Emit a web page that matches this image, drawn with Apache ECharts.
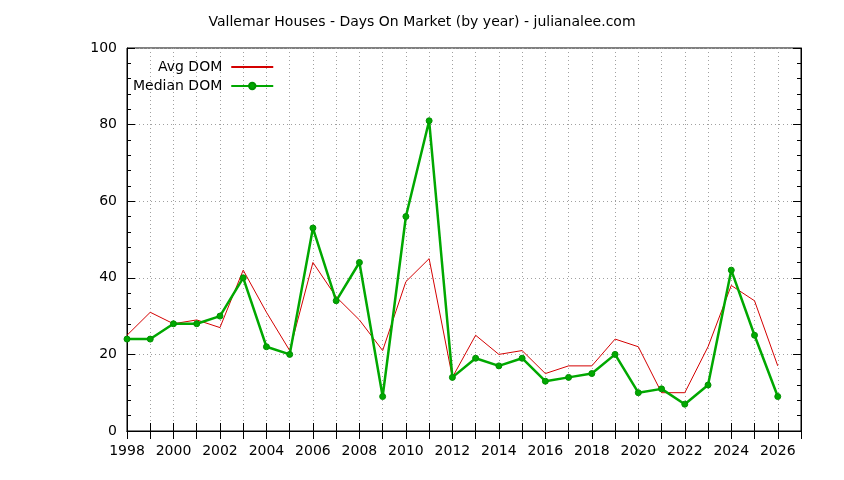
<!DOCTYPE html>
<html><head><meta charset="utf-8">
<script src="https://cdn.jsdelivr.net/npm/echarts@6/dist/echarts.min.js"></script>
<style>html,body{margin:0;padding:0;background:#fff}#c{width:844px;height:480px}</style>
</head><body><div id="c"></div>
<script>
const years = [1998,1999,2000,2001,2002,2003,2004,2005,2006,2007,2008,2009,2010,2011,2012,2013,2014,2015,2016,2017,2018,2019,2020,2021,2022,2023,2024,2025,2026];
const avgDom = [25,31,28,29,27,42,31,21,44,35,29,21,39,45,14,25,20,21,15,17,17,24,22,10,10,22,38,34,17];
const medianDom = [24,24,28,28,30,40,22,20,53,34,44,9,56,81,14,19,17,19,13,14,15,20,10,11,7,12,42,25,9];
const titleText = 'Vallemar Houses - Days On Market (by year) - julianalee.com';

const FONT = 'DejaVu Sans';
const chart = echarts.init(document.getElementById('c'));
const dotted = {show:true, lineStyle:{color:'#a0a0a0', type:[1,3], width:1}};
chart.setOption({
  animation:false,
  title:{text:titleText, left:'center', top:10, textStyle:{fontFamily:FONT, fontSize:14, fontWeight:'normal', color:'#000'}},
  grid:{left:127, right:43, top:48, bottom:49, show:true, borderColor:'#000', borderWidth:1, backgroundColor:'transparent'},
  legend:{orient:'vertical', align:'right', left:133, top:60, padding:0, itemGap:5, itemWidth:42, itemHeight:8,
    textStyle:{fontFamily:FONT, fontSize:14, color:'#000', padding:[0,4,0,0]},
    data:[{name:'Avg DOM', itemStyle:{opacity:0}},'Median DOM']},
  xAxis:[{type:'value', min:1998, max:2027, interval:1,
    axisLine:{show:true, lineStyle:{color:'#000'}},
    axisTick:{show:true, inside:true, length:8, lineStyle:{color:'#000'}},
    axisLabel:{fontFamily:FONT, fontSize:14, color:'#000', margin:13,
      formatter:function(v){return (v%2===0 && v<=2026)?String(v):'';}},
    splitLine:dotted},
   {type:'value', position:'top', min:1998, max:2027, interval:1,
    axisLine:{show:true, lineStyle:{color:'#000'}},
    axisTick:{show:true, inside:true, length:8, lineStyle:{color:'#000'}},
    axisLabel:{show:false}, splitLine:{show:false}}],
  yAxis:[{type:'value', min:0, max:100, interval:20,
    axisLine:{show:true, lineStyle:{color:'#000'}},
    axisTick:{show:true, inside:true, length:8, lineStyle:{color:'#000'}},
    minorTick:{show:true, splitNumber:5, length:4, lineStyle:{color:'#000'}},
    axisLabel:{fontFamily:FONT, fontSize:14, color:'#000', margin:10},
    splitLine:dotted},
   {type:'value', position:'right', min:0, max:100, interval:20,
    axisLine:{show:true, lineStyle:{color:'#000'}},
    axisTick:{show:true, inside:true, length:8, lineStyle:{color:'#000'}},
    minorTick:{show:true, splitNumber:5, length:4, lineStyle:{color:'#000'}},
    axisLabel:{show:false}, splitLine:{show:false}}],
  series:[
    {name:'Avg DOM', type:'line', symbol:'none', data:years.map((y,i)=>[y,avgDom[i]]),
      lineStyle:{color:'#d40000', width:1}, itemStyle:{color:'#d40000'}},
    {name:'Median DOM', type:'line', symbol:'circle', symbolSize:6, data:years.map((y,i)=>[y,medianDom[i]]),
      lineStyle:{color:'#00a800', width:2.5}, itemStyle:{color:'#00a800', borderColor:'#009000', borderWidth:1}}
  ]
});
</script></body></html>
